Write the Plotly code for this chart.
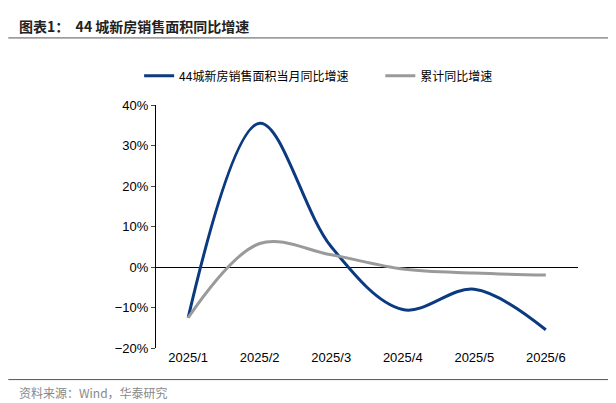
import plotly.graph_objs as go

months = ["2025/1", "2025/2", "2025/3", "2025/4", "2025/5", "2025/6"]
monthly_yoy = [-12.5, 35.5, 5.0, -10.5, -5.5, -15.5]
cumulative_yoy = [-12.5, 5.8, 3.0, -0.5, -1.5, -2.0]

font = "Noto Sans CJK SC"

fig = go.Figure()
fig.add_trace(go.Scatter(x=months, y=monthly_yoy, name="44城新房销售面积当月同比增速          ",
                         mode="lines", line=dict(color="#0b3a80", width=3, shape="spline", smoothing=1.0)))
fig.add_trace(go.Scatter(x=months, y=cumulative_yoy, name="累计同比增速",
                         mode="lines", line=dict(color="#9a9a9a", width=3, shape="spline", smoothing=1.0)))

fig.update_layout(
    width=616, height=403,
    margin=dict(l=148, r=46, t=97, b=63, autoexpand=False),
    plot_bgcolor="white", paper_bgcolor="white",
    font=dict(family=font, size=13, color="black"),
    showlegend=True,
    legend=dict(orientation="h", x=-0.04, y=1.12, xanchor="left", yanchor="middle",
                font=dict(size=12), traceorder="normal"),
)
fig.update_xaxes(showgrid=False, showline=False, ticks="", tickfont=dict(size=13, family="Liberation Sans"),
                 range=[-0.45, 5.45], automargin=False)
fig.update_yaxes(range=[-20, 40], dtick=10, ticksuffix="%", showgrid=False,
                 showline=True, linecolor="black", linewidth=1, ticks="outside", ticklen=4,
                 zeroline=True, zerolinecolor="black", zerolinewidth=1, automargin=False,
                 tickfont=dict(size=13, family="Liberation Sans"))

fig.add_annotation(text="<b>图表1：  44 城新房销售面积同比增速</b>", xref="paper", yref="paper",
                   x=-0.33, y=1.325, xanchor="left", yanchor="middle", showarrow=False,
                   font=dict(size=14, color="#222"))
fig.add_shape(type="line", xref="paper", yref="paper", x0=-0.35, x1=1.09, y0=1.276, y1=1.276,
              line=dict(color="#555", width=1))
fig.add_shape(type="line", xref="paper", yref="paper", x0=-0.35, x1=1.09, y0=-0.13, y1=-0.13,
              line=dict(color="#555", width=1))
fig.add_annotation(text="资料来源：Wind，华泰研究", xref="paper", yref="paper",
                   x=-0.33, y=-0.185, xanchor="left", yanchor="middle", showarrow=False,
                   font=dict(size=12, color="#888"))

fig.write_html("out.html")
